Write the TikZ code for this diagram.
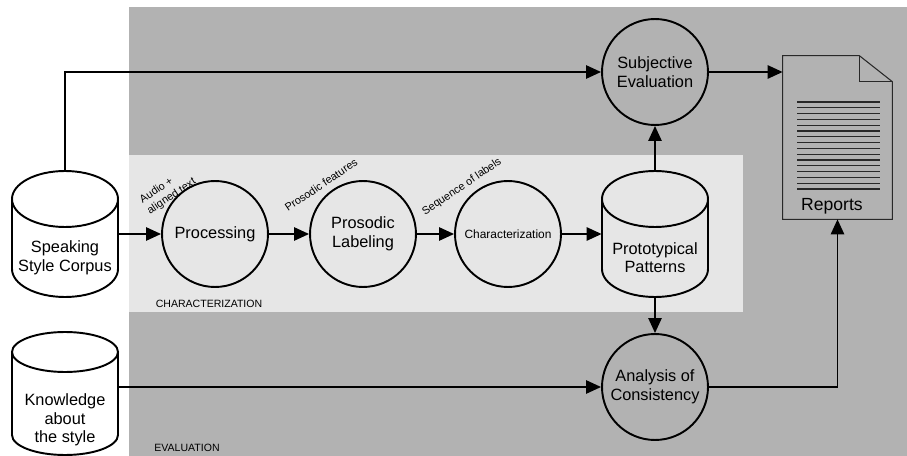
\documentclass[tikz,border=0pt]{standalone}
\usepackage{fontspec}
\setmainfont{Liberation Sans}
\usepackage{xcolor}
\definecolor{evalgray}{RGB}{178,178,178}
\definecolor{chargray}{RGB}{230,230,230}
\definecolor{docgray}{RGB}{40,40,40}
\usetikzlibrary{arrows.meta, calc}

\tikzset{
  flow/.style={line width=1.1pt, -{Triangle[length=8.5pt, width=7.5pt]}},
  stage/.style={circle, draw, line width=1.1pt, minimum size=2.12cm, inner sep=1pt,
                align=center, font=\fontsize{9.3}{10.6}\selectfont},
  store/.style={rectangle, draw=none, minimum width=2.12cm, inner sep=0pt},
  cyl/.style={line width=1.1pt},
  storetext/.style={align=center, font=\fontsize{9.3}{10.6}\selectfont},
  edgetext/.style={rotate=34, align=left, inner sep=0pt, font=\fontsize{6.2}{7.6}\selectfont},
  areatext/.style={inner sep=0pt, font=\fontsize{6}{7}\selectfont},
  docline/.style={docgray, line width=0.6pt},
}

\begin{document}
\begin{tikzpicture}[x=0.02cm, y=-0.02cm]
\useasboundingbox (0,0) rectangle (907,456);

% === Areas ===
\fill[evalgray] (129,7) rectangle (907,456);
\fill[chargray] (129,155) rectangle (743,312);
\node[areatext] (evallbl) at (187,448) {EVALUATION};
\node[areatext] (charlbl) at (209,304) {CHARACTERIZATION};

% === Speaking style corpus ===
\node[store, minimum height=2.52cm] (corpus) at (65,234) {};
\draw[cyl] (12,199) -- (12,269) arc[start angle=180, end angle=0, x radius=53, y radius=28] -- (118,199);
\draw[cyl] (65,199) ellipse [x radius=53, y radius=28];
\node[storetext] (corpustxt) at (65,257.5) {Speaking\\Style Corpus};

% === Knowledge about the style ===
\node[store, minimum height=2.46cm] (know) at (65,393.5) {};
\draw[cyl] (12,352) -- (12,435) arc[start angle=180, end angle=0, x radius=53, y radius=20] -- (118,352);
\draw[cyl] (65,352) ellipse [x radius=53, y radius=20];
\node[storetext] (knowtxt) at (65,420) {Knowledge\\about\\the style};

% === Prototypical patterns ===
\node[store, minimum height=2.52cm] (proto) at (655,234) {};
\draw[cyl] (602,199) -- (602,269) arc[start angle=180, end angle=0, x radius=53, y radius=28] -- (708,199);
\draw[cyl] (655,199) ellipse [x radius=53, y radius=28];
\node[storetext] (prototxt) at (655,257.5) {Prototypical\\Patterns};

% === Stages ===
\node[stage] (proc) at (215,234) {Processing};
\node[stage] (prosody) at (363,234) {Prosodic\\Labeling};
\node[stage, font=\fontsize{6.8}{8}\selectfont] (charact) at (508,234) {Characterization};
\node[stage] (subj) at (655,72) {Subjective\\Evaluation};
\node[stage] (consist) at (655,387) {Analysis of\\Consistency};

% === Reports ===
\node[store, minimum width=2.18cm, minimum height=3.26cm] (reports) at (837.5,137.5) {};
\draw[docline] (reports.south west) -- (reports.north west) -- ($(reports.north east)+(-33,0)$)
  -- ($(reports.north east)+(0,26)$) -- (reports.south east) -- cycle;
\draw[docline] ($(reports.north east)+(-33,0)$) |- ($(reports.north east)+(0,26)$);
\foreach \k in {0,...,15}
  \draw[docline] (797,{102+5.8*\k}) -- (880,{102+5.8*\k});
\node[storetext, anchor=west, font=\fontsize{10}{12}\selectfont] (reportstxt) at (795,206) {Reports};

% === Edge labels ===
\node[edgetext] (audiolbl) at (168,191) {Audio +\\aligned text};
\node[edgetext] (featlbl) at (321,185) {Prosodic features};
\node[edgetext] (seqlbl) at (462,187) {Sequence of labels};

% === Connectors ===
\draw[flow] (corpus.north) |- (subj.west);
\draw[flow] (corpus.east) -- (proc.west);
\draw[flow] (proc.east) -- (prosody.west);
\draw[flow] (prosody.east) -- (charact.west);
\draw[flow] (charact.east) -- (proto.west);
\draw[flow] (proto.north) -- (subj.south);
\draw[flow] (proto.south) -- (consist.north);
\draw[flow] (consist.west -| know.east) -- (consist.west);
\draw[flow] (subj.east) -- (subj.east -| reports.west);
\draw[flow] (consist.east) -| (reports.south);

\end{tikzpicture}
\end{document}
